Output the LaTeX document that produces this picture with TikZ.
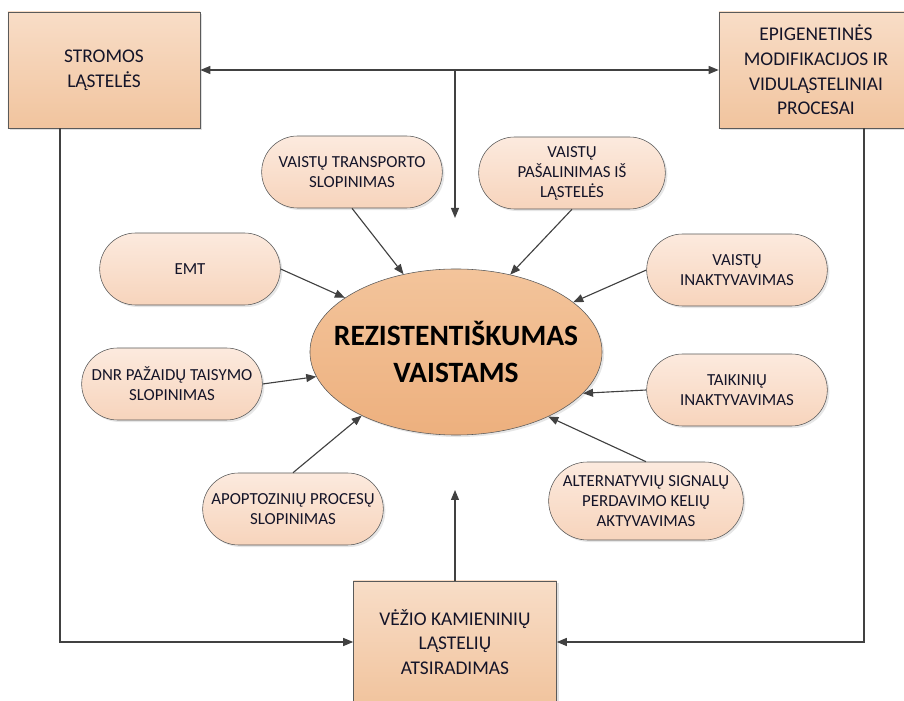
\documentclass[tikz,border=0pt]{standalone}
\usepackage{fontspec}
\setmainfont{Carlito}
\usepackage{tikz}
\usetikzlibrary{shapes.geometric,shapes.misc,shadows,arrows.meta}
\definecolor{edgegray}{RGB}{90,90,90}
\definecolor{linegray}{RGB}{65,65,65}
\definecolor{ink}{RGB}{20,20,40}
\definecolor{boxtop}{RGB}{248,221,199}
\definecolor{boxbot}{RGB}{241,196,158}
\definecolor{pilltop}{RGB}{252,234,222}
\definecolor{pillbot}{RGB}{247,212,188}
\definecolor{coretop}{RGB}{243,196,155}
\definecolor{corebot}{RGB}{237,176,126}

\begin{document}
\begin{tikzpicture}[
  x=0.025cm, y=-0.025cm,
  box/.style={
    rectangle, draw=edgegray, top color=boxtop, bottom color=boxbot,
    minimum width=4.8cm, minimum height=2.9cm, align=center, text=ink,
    font=\fontsize{13.8}{17.5}\selectfont,
    drop shadow={shadow xshift=0.06cm, shadow yshift=-0.06cm, opacity=0.25}
  },
  pill/.style={
    rounded rectangle, draw=edgegray, top color=pilltop, bottom color=pillbot,
    minimum width=4.75cm, minimum height=1.8cm, align=center, text=ink,
    font=\fontsize{12}{14.2}\selectfont,
    drop shadow={shadow xshift=0.05cm, shadow yshift=-0.05cm, opacity=0.2}
  },
  core/.style={
    ellipse, draw=edgegray, top color=coretop, bottom color=corebot,
    minimum width=7.3cm, minimum height=4.15cm, inner sep=0pt,
    drop shadow={shadow xshift=0.05cm, shadow yshift=-0.05cm, opacity=0.2}
  },
  coretext/.style={align=center, font=\fontsize{21}{26}\selectfont\bfseries},
  arrow/.style={-{Triangle[length=2.5mm,width=2mm]}, draw=linegray, line width=0.8pt}
]
\useasboundingbox (0,0) rectangle (904,701);

% outer boxes
\node[box] (stromos) at (104,70) {STROMOS\\LĄSTELĖS};
\node[box, minimum width=4.85cm] (epi) at (816,70)
  {EPIGENETINĖS\\MODIFIKACIJOS IR\\VIDULĄSTELINIAI\\PROCESAI};
\node[box, minimum width=5.075cm, minimum height=3.05cm] (vezys) at (455,642)
  {VĖŽIO KAMIENINIŲ\\LĄSTELIŲ\\ATSIRADIMAS};

% center
\node[core] (res) at (456,352) {};
\node[coretext] (restxt) at (res) {REZISTENTIŠKUMAS\\VAISTAMS};

% mechanisms
\node[pill] (transp) at (352,172) {VAISTŲ TRANSPORTO\\SLOPINIMAS};
\node[pill, minimum width=4.9cm] (pasal) at (572,173) {VAISTŲ\\PAŠALINIMAS IŠ\\LĄSTELĖS};
\node[pill] (emt) at (190,269) {EMT};
\node[pill] (vinakt) at (737,270) {VAISTŲ\\INAKTYVAVIMAS};
\node[pill] (dnr) at (172,384) {DNR PAŽAIDŲ TAISYMO\\SLOPINIMAS};
\node[pill] (taik) at (737,390) {TAIKINIŲ\\INAKTYVAVIMAS};
\node[pill] (apopt) at (293,509) {APOPTOZINIŲ PROCESŲ\\SLOPINIMAS};
\node[pill, minimum width=4.85cm, minimum height=1.95cm] (alt) at (646,501)
  {ALTERNATYVIŲ SIGNALŲ\\PERDAVIMO KELIŲ\\AKTYVAVIMAS};

% hub
\coordinate (hub) at (455,70);
\coordinate (hubdown) at (455,218);
\coordinate (hubup) at (455,490);

\draw[arrow] (hub) -- (stromos.east);
\draw[arrow] (hub) -- (epi.west);
\draw[arrow] (hub) -- (hubdown);
\draw[arrow] (vezys.north) -- (hubup);
\draw[arrow] ([xshift=-1.1cm]stromos.south) |- (vezys.west);
\draw[arrow] ([xshift=1.2cm]epi.south) |- (vezys.east);

% into the center
\draw[arrow] (transp.south) -- (res.124);
\draw[arrow] (pasal.south) -- (res.55);
\draw[arrow] (emt.east) -- (res.154);
\draw[arrow] (vinakt.west) -- (res.23);
\draw[arrow] (dnr.east) -- (res.190);
\draw[arrow] (taik.west) -- (res.342);
\draw[arrow] (apopt.north) -- (res.214);
\draw[arrow] (alt.north) -- (res.325);
\end{tikzpicture}
\end{document}
